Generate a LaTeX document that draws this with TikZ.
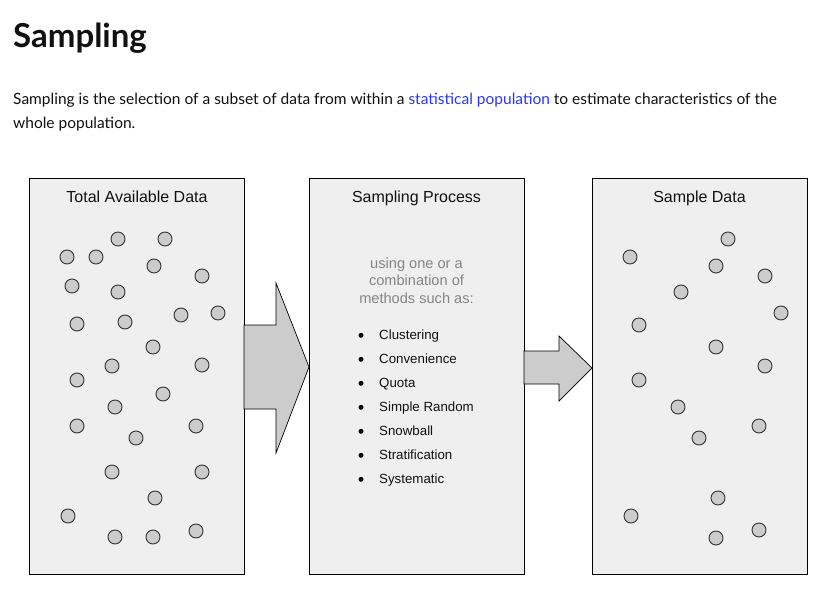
\documentclass[tikz,border=0pt]{standalone}
\usepackage{fontspec}
\setmainfont{Liberation Sans}
\newfontfamily\lato{Lato}
\definecolor{boxfill}{HTML}{EFEFEF}
\definecolor{dotfill}{HTML}{CCCCCC}
\definecolor{dotline}{HTML}{333333}
\definecolor{linkblue}{HTML}{2B3BE0}
\definecolor{graytext}{HTML}{858585}
\definecolor{inkblack}{HTML}{111111}
\begin{document}
\begin{tikzpicture}[x=1pt,y=-1pt,
 panel/.style={draw=black,fill=boxfill,line width=0.9pt,minimum width=215pt,minimum height=396pt,inner sep=0pt,outer sep=0pt},
 dot/.style={circle,draw=dotline,fill=dotfill,line width=0.9pt,minimum size=14pt,inner sep=0pt},
 bigarrow/.style={draw=black,fill=dotfill,line width=0.7pt},
 heading/.style={font=\fontsize{16}{19}\selectfont,anchor=base,inner sep=0pt,text=inkblack},
 grayline/.style={font=\fontsize{14.6}{17}\selectfont,anchor=base,inner sep=0pt,text=graytext},
 item/.style={font=\fontsize{13.3}{15}\selectfont,anchor=base west,inner sep=0pt,text=inkblack},
 bul/.style={circle,fill=black,minimum size=5pt,inner sep=0pt},
 prose/.style={font=\lato\fontsize{15.5}{20}\selectfont,anchor=base west,inner sep=0pt,text=inkblack}]
\useasboundingbox[fill=white] (0,0) rectangle (830,589);
% title and intro
\node[anchor=base west,inner sep=0pt,font=\lato\bfseries\fontsize{33}{38}\selectfont,text=inkblack] (title) at (13,47) {Sampling};
\node[prose] (intro1) at (13,104) {Sampling is the selection of a subset of data from within a \textcolor{linkblue}{statistical population} to estimate characteristics of the};
\node[prose] (intro2) at (13,128) {whole population.};
% panels
\node[panel] (total) at (136.5,376) {};
\node[panel] (proc) at (416.5,376) {};
\node[panel] (sample) at (699.5,376.5) {};
% arrows
\draw[bigarrow] (244,325) -- (276,325) -- (276,283) -- (309,367) -- (276,453) -- (276,409) -- (244,409) -- cycle;
\draw[bigarrow] (524,351) -- (559,351) -- (559,336) -- (592,368) -- (559,401) -- (559,384) -- (524,384) -- cycle;
% headings
\node[heading] (totalT) at (137,202) {Total Available Data};
\node[heading] (procT) at (416.5,202) {Sampling Process};
\node[heading] (sampleT) at (699.5,202) {Sample Data};
% description
\node[grayline] (g1) at (416.5,268) {using one or a};
\node[grayline] (g2) at (416.5,285.5) {combination of};
\node[grayline] (g3) at (416.5,303) {methods such as:};
\foreach \t [count=\i from 0] in {Clustering,Convenience,Quota,Simple Random,Snowball,Stratification,Systematic}{
  \node[bul] (b\i) at (361,335.3+24*\i) {};
  \node[item] (m\i) at (379,339+24*\i) {\t};
}
% dots in total data
\foreach \x/\y [count=\i] in {118/239,165/239,67/257,96/257,154/266,202/276,72/286,118/292,77/324,125/322,181/315,218/313,153/347,112/366,202/365,77/380,163/394,115/407,77/426,196/426,136/438,112/472,202/472,155/498,68/516,115/537,153/537,196/531}{
  \node[dot] (t\i) at (\x,\y) {};
}
% dots in sample data
\foreach \x/\y [count=\i] in {728/239,630/257,716/266,765/276,681/292,781/313,639/325,716/347,765/366,639/380,678/407,759/426,699/438,718/498,631/516,716/538,759/530}{
  \node[dot] (s\i) at (\x,\y) {};
}
\end{tikzpicture}
\end{document}
